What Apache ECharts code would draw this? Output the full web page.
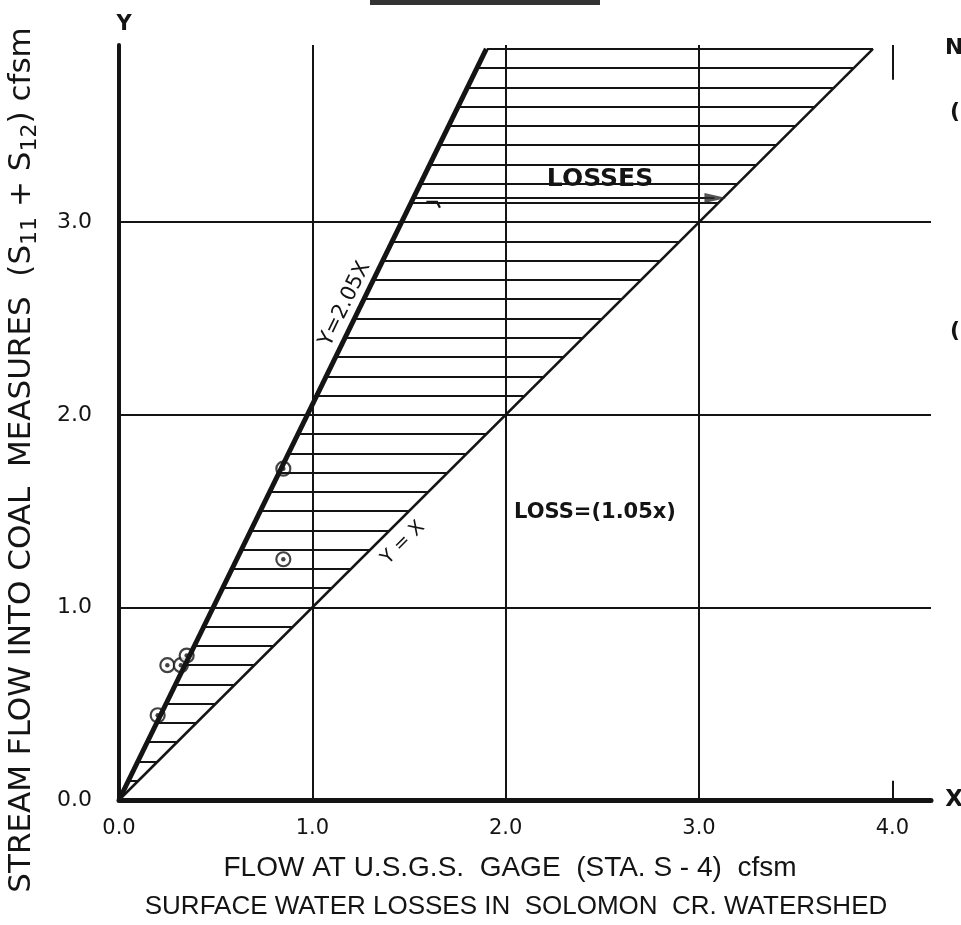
<!DOCTYPE html>
<html>
<head>
<meta charset="utf-8">
<script src="https://cdn.jsdelivr.net/npm/echarts@6/dist/echarts.min.js"></script>
<style>
html,body{margin:0;padding:0;background:#fff;}
#c{width:961px;height:925px;}
</style>
</head>
<body>
<div id="c"></div>
<script>
// ---- data ----
const xTicks = [0, 1, 2, 3, 4];
const yTicks = [0, 1, 2, 3];
const gridX = [1, 2, 3];
const gridY = [1, 2, 3];
const lineYeqX = [[0, 0], [3.9, 3.9]];          // Y = X
const lineY205 = [[0, 0], [1.9, 3.9]];          // Y = 2.05X
const slopeUpper = 2.05;
const hatchLevels = [0.1,0.2,0.3,0.4,0.5,0.6,0.7,0.8,0.9,1.0,1.1,1.2,1.3,1.4,1.5,1.6,1.7,1.8,1.9,2.0,
                     2.1,2.2,2.3,2.4,2.5,2.6,2.7,2.8,2.9,3.0,3.1,3.2,3.3,3.4,3.5,3.6,3.7,3.8,3.9];
const points = [[0.20, 0.44], [0.25, 0.70], [0.32, 0.70], [0.35, 0.75], [0.85, 1.72], [0.85, 1.25]];
const lossArrowY = 3.125;
const fadedGridX4 = [[[4, 3.74], [4, 3.92]], [[4, 0], [4, 0.1]]];
const xMax = 4.2, yMax = 3.92;

const ink = '#141414';
const fontMain = '"DejaVu Sans", "Liberation Sans", sans-serif';
const fontTitle = '"Liberation Sans", "DejaVu Sans", sans-serif';

const hatchData = hatchLevels.map(y => ({coords: [[y / slopeUpper, y], [y, y]]}));
const arrowData = [{coords: [[lossArrowY / slopeUpper, lossArrowY], [3.08, lossArrowY]]}];
const hookData = [{coords: [[1.59, 3.105], [1.645, 3.105], [1.66, 3.075]]}];
const fadedData = fadedGridX4.map(c => ({coords: c}));

const chart = echarts.init(document.getElementById('c'), null, {renderer: 'canvas'});
const option = {
  backgroundColor: '#ffffff',
  animation: false,
  grid: {left: 119, right: 30, top: 45, bottom: 125, containLabel: false},
  xAxis: {
    type: 'value', min: 0, max: xMax, interval: 1,
    axisLine: {show: true, lineStyle: {color: ink, width: 5}},
    axisTick: {show: false},
    splitLine: {show: false},
    axisLabel: {
      margin: 18, color: ink, fontSize: 21, fontFamily: fontMain,
      formatter: v => xTicks.includes(v) ? v.toFixed(1) : ''
    }
  },
  yAxis: {
    type: 'value', min: 0, max: yMax, interval: 1,
    axisLine: {show: true, lineStyle: {color: ink, width: 4}},
    axisTick: {show: false},
    splitLine: {show: false},
    axisLabel: {
      margin: 27, color: ink, fontSize: 22, fontFamily: fontMain,
      formatter: v => yTicks.includes(v) ? v.toFixed(1) : ''
    }
  },
  series: [
    {
      type: 'line', data: lineYeqX, showSymbol: false, silent: true,
      lineStyle: {color: ink, width: 2.5}, z: 5,
      markLine: {
        silent: true, symbol: ['none', 'none'], label: {show: false},
        lineStyle: {color: ink, width: 2, type: 'solid', opacity: 1},
        data: gridX.map(v => ({xAxis: v})).concat(gridY.map(v => ({yAxis: v})))
      }
    },
    {
      type: 'line', data: lineY205, showSymbol: false, silent: true,
      lineStyle: {color: ink, width: 5}, z: 6
    },
    {
      type: 'lines', coordinateSystem: 'cartesian2d', data: hatchData, silent: true,
      lineStyle: {color: ink, width: 2, opacity: 1}, z: 4
    },
    {
      type: 'lines', coordinateSystem: 'cartesian2d', data: fadedData, silent: true,
      lineStyle: {color: ink, width: 2, opacity: 1}, z: 4
    },
    {
      type: 'lines', coordinateSystem: 'cartesian2d', data: arrowData, silent: true,
      lineStyle: {color: ink, width: 2.2, opacity: 1}, z: 7
    },
    {
      type: 'lines', coordinateSystem: 'cartesian2d', polyline: true, data: hookData, silent: true,
      lineStyle: {color: ink, width: 2.2, opacity: 1}, z: 7
    },
    {
      type: 'scatter', data: [[3.085, lossArrowY]], symbol: 'triangle', symbolRotate: -90,
      symbolSize: [10, 22], itemStyle: {color: '#2a2a2a'}, silent: true, z: 8
    },
    {
      type: 'scatter', data: points, symbol: 'circle', symbolSize: 14, silent: true,
      itemStyle: {color: '#fff', borderColor: ink, borderWidth: 2.2}, z: 3
    },
    {
      type: 'scatter', data: points, symbol: 'circle', symbolSize: 4.5, silent: true,
      itemStyle: {color: ink}, z: 3
    }
  ],
  graphic: [
    {type: 'rect', shape: {x: 370, y: 0, width: 230, height: 5}, style: {fill: '#333'}},
    {type: 'text', x: 124, y: 25, style: {text: 'Y', fontSize: 21, fontWeight: 'bold', fontFamily: fontMain, fill: ink, align: 'center', verticalAlign: 'middle'}},
    {type: 'text', x: 954, y: 800, style: {text: 'X', fontSize: 23, fontWeight: 'bold', fontFamily: fontMain, fill: ink, align: 'center', verticalAlign: 'middle'}},
    {type: 'text', x: 945, y: 48, style: {text: 'N', fontSize: 22, fontWeight: 'bold', fontFamily: fontMain, fill: ink, align: 'left', verticalAlign: 'middle'}},
    {type: 'text', x: 950, y: 112, style: {text: '(', fontSize: 22, fontWeight: 'bold', fontFamily: fontMain, fill: ink, align: 'left', verticalAlign: 'middle'}},
    {type: 'text', x: 950, y: 331, style: {text: '(', fontSize: 22, fontWeight: 'bold', fontFamily: fontMain, fill: ink, align: 'left', verticalAlign: 'middle'}},
    {type: 'text', x: 600, y: 179, style: {text: 'LOSSES', fontSize: 25, fontWeight: 'bold', fontFamily: fontMain, fill: ink, align: 'center', verticalAlign: 'middle'}},
    {type: 'text', x: 595, y: 513, style: {text: 'LOSS=(1.05x)', fontSize: 21, fontWeight: 'bold', fontFamily: fontMain, fill: ink, align: 'center', verticalAlign: 'middle'}},
    {type: 'text', x: 345, y: 304, rotation: 64 * Math.PI / 180, style: {text: 'Y=2.05X', fontSize: 21, fontFamily: fontMain, fill: ink, align: 'center', verticalAlign: 'middle'}},
    {type: 'text', x: 403, y: 543, rotation: 45 * Math.PI / 180, style: {text: 'Y = X', fontSize: 19, fontFamily: fontMain, fill: ink, align: 'center', verticalAlign: 'middle'}},
    {type: 'text', x: 510, y: 868, style: {text: 'FLOW AT U.S.G.S.  GAGE  (STA. S - 4)  cfsm', fontSize: 28, fontFamily: fontTitle, fill: ink, align: 'center', verticalAlign: 'middle'}},
    {type: 'text', x: 516, y: 907, style: {text: 'SURFACE WATER LOSSES IN  SOLOMON  CR. WATERSHED', fontSize: 26, fontFamily: fontTitle, fill: ink, align: 'center', verticalAlign: 'middle'}},
    {type: 'text', x: 22, y: 460, rotation: Math.PI / 2, style: {
      text: '{a|STREAM FLOW INTO COAL  MEASURES  (S}{b|11}{a| + S}{b|12}{a|) cfsm}',
      align: 'center', verticalAlign: 'middle', fill: ink,
      rich: {
        a: {fontSize: 31, fontFamily: fontMain, fill: ink, lineHeight: 38, verticalAlign: 'middle'},
        b: {fontSize: 22, fontFamily: fontMain, fill: ink, lineHeight: 38, verticalAlign: 'bottom'}
      }
    }}
  ]
};
chart.setOption(option);
</script>
</body>
</html>
